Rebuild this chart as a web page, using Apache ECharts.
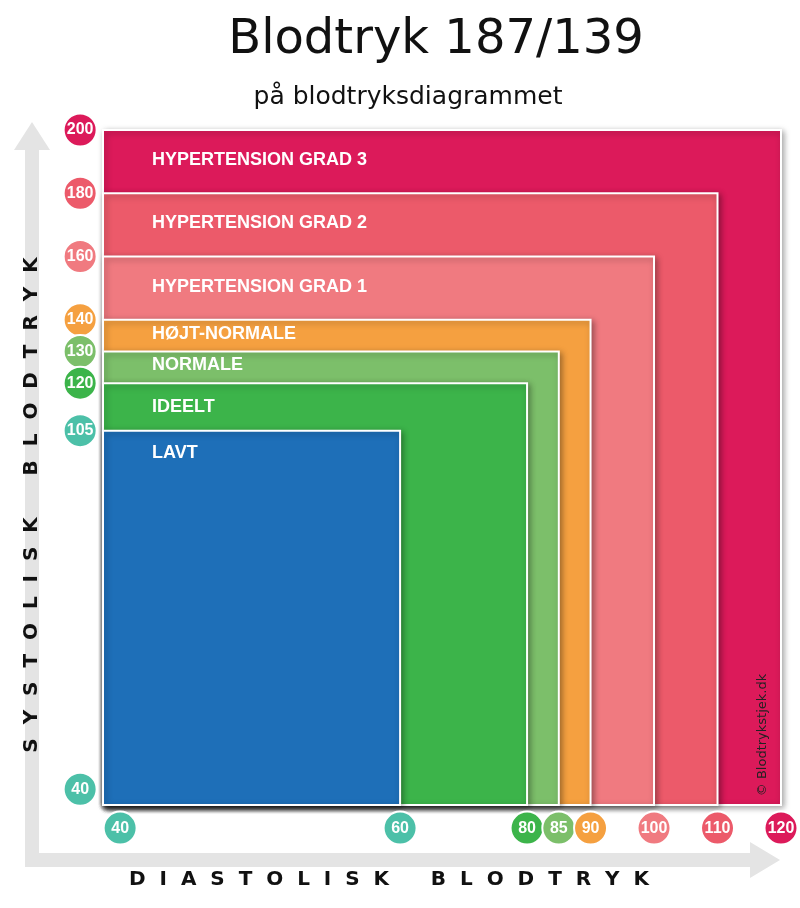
<!DOCTYPE html>
<html><head><meta charset="utf-8">
<script src="https://cdn.jsdelivr.net/npm/echarts@6/dist/echarts.min.js"></script>
<style>html,body{margin:0;padding:0;background:#fff}#c{width:800px;height:908px}</style>
</head><body><div id="c"></div>
<script>
const zoneNames = ['HYPERTENSION GRAD 3','HYPERTENSION GRAD 2','HYPERTENSION GRAD 1','HØJT-NORMALE','NORMALE','IDEELT','LAVT'];
const zoneDia = [120,110,100,90,85,80,60];
const zoneSys = [200,180,160,140,130,120,105];
const zoneColors = ['#dc1a5a','#ec5a6a','#f07a80','#f5a040','#7cbf6a','#3cb44a','#1e6fb8'];
const labelDy = [30,30,30,14,14,24,22];
const sysTicks = [200,180,160,140,130,120,105,40];
const sysTickColors = ['#dc1a5a','#ec5a6a','#f07a80','#f5a040','#7cbf6a','#3cb44a','#4cc0a8','#4cc0a8'];
const diaTicks = [40,60,80,85,90,100,110,120];
const diaTickColors = ['#4cc0a8','#4cc0a8','#3cb44a','#7cbf6a','#f5a040','#f07a80','#ec5a6a','#dc1a5a'];

const XMIN = 13.2, XMAX = 120, YMIN = -13.3, YMAX = 200;
const xPos = v => v === 40 ? XMIN + 2.7 : v;
const yPos = v => v === 40 ? YMIN + 5 : v;
const LEFTX = XMIN - 3.6, BOTY = YMIN - 7.3;

const chart = echarts.init(document.getElementById('c'));
chart.setOption({
  animation:false,
  grid:{left:103,right:19,top:130,bottom:103},
  xAxis:{type:'value',min:XMIN,max:XMAX,show:false},
  yAxis:{type:'value',min:YMIN,max:YMAX,show:false},
  title:[
    {text:'Blodtryk 187/139',left:431,top:12,textAlign:'center',textStyle:{fontFamily:'DejaVu Sans',fontSize:48,fontWeight:'normal',color:'#111'}},
    {text:'på blodtryksdiagrammet',left:403,top:80,textAlign:'center',textStyle:{fontFamily:'DejaVu Sans',fontSize:25,fontWeight:'normal',color:'#111'}}
  ],
  graphic:[
    {type:'polyline',shape:{points:[[32,140],[32,860],[760,860]]},style:{stroke:'#e4e4e4',lineWidth:14,fill:null},z:0},
    {type:'polygon',shape:{points:[[14,150],[32,122],[50,150]]},style:{fill:'#e4e4e4'},z:0},
    {type:'polygon',shape:{points:[[750,842],[780,860],[750,878]]},style:{fill:'#e4e4e4'},z:0},
    {type:'text',x:32,y:505,rotation:Math.PI/2,style:{text:'S  Y  S  T  O  L  I  S  K      B  L  O  D  T  R  Y  K',font:'bold 20px DejaVu Sans',fill:'#111',align:'center',verticalAlign:'middle'},z:5},
    {type:'text',x:389,y:880,style:{text:'D  I  A  S  T  O  L  I  S  K      B  L  O  D  T  R  Y  K',font:'bold 20px DejaVu Sans',fill:'#111',align:'center',verticalAlign:'middle'},z:5},
    {type:'text',x:763,y:735,rotation:Math.PI/2,style:{text:'© Blodtrykstjek.dk',font:'13px DejaVu Sans',fill:'#222',align:'center',verticalAlign:'middle'},z:20}
  ],
  series:[
    {type:'custom',coordinateSystem:'cartesian2d',data:zoneDia.map((d,i)=>[d,zoneSys[i]]),clip:false,
     renderItem:(params,api)=>{
       const i=params.dataIndex;
       const p1=api.coord([XMIN,api.value(1)]), p2=api.coord([api.value(0),YMIN]);
       return {type:'group',children:[
         {type:'rect',shape:{x:p1[0],y:p1[1],width:p2[0]-p1[0],height:p2[1]-p1[1]},
          style:{fill:zoneColors[i],stroke:'#fff',lineWidth:2,shadowBlur:6,shadowColor:'rgba(0,0,0,0.35)',shadowOffsetX:2,shadowOffsetY:2}},
         {type:'text',x:p1[0]+49,y:p1[1]+labelDy[i],style:{text:zoneNames[i],font:'bold 18px Liberation Sans',fill:'#fff',verticalAlign:'middle'}}
       ]};
     }},
    {type:'scatter',clip:false,symbolSize:33,z:10,
     data:sysTicks.map((v,i)=>({value:[LEFTX,yPos(v)],itemStyle:{color:sysTickColors[i],opacity:1,borderColor:'#fff',borderWidth:2},label:{show:true,formatter:String(v)}})),
     label:{position:'inside',color:'#fff',fontSize:16,fontFamily:'Liberation Sans',fontWeight:'bold'}},
    {type:'scatter',clip:false,symbolSize:33,z:10,
     data:diaTicks.map((v,i)=>({value:[xPos(v),BOTY],itemStyle:{color:diaTickColors[i],opacity:1,borderColor:'#fff',borderWidth:2},label:{show:true,formatter:String(v)}})),
     label:{position:'inside',color:'#fff',fontSize:16,fontFamily:'Liberation Sans',fontWeight:'bold'}}
  ]
});
</script></body></html>
